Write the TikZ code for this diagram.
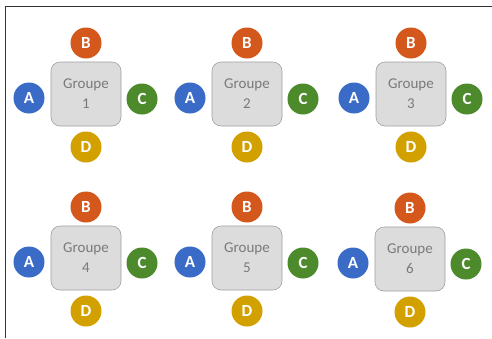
\documentclass[tikz,border=0pt]{standalone}
\usepackage{fontspec}
\setmainfont{Carlito}
\definecolor{cA}{HTML}{3A6BC6}
\definecolor{cB}{HTML}{D4581C}
\definecolor{cC}{HTML}{4C8A2C}
\definecolor{cD}{HTML}{D2A100}
\definecolor{boxfill}{HTML}{DCDCDC}
\definecolor{boxline}{HTML}{A0A0A0}
\definecolor{boxtext}{HTML}{7A7A7A}
\tikzset{
  grp/.style={draw=boxline, fill=boxfill, rounded corners=9pt, minimum width=70pt, minimum height=64pt, inner sep=0pt, align=center, text=boxtext, font=\fontsize{15}{20}\selectfont, line width=0.6pt},
  ball/.style={circle, fill=#1, minimum size=31pt, inner sep=0pt, text=white, font=\bfseries\fontsize{17}{17}\selectfont},
}
\begin{document}
\begin{tikzpicture}[x=1pt,y=-1pt]
\useasboundingbox (0,0) rectangle (492,338);
\fill[white] (0,0) rectangle (492,338);
\coordinate (tl) at (5.5,6.5);
\coordinate (tr) at (492,6.5);
\coordinate (bl) at (5.5,338);
\draw[line width=1.3pt, black!80] (tr) -- (tl) -- (bl);
\foreach \n/\x/\y in {1/86/94, 2/247/94, 3/411/94, 4/86/258, 5/247/258, 6/410/259} {
  \node[grp] (g\n) at (\x,\y) {Groupe\\\n};
  \node[ball=cB] (b\n) at (\x+0,\y-51) {B};
  \node[ball=cA] (a\n) at (\x-57,\y+4) {A};
  \node[ball=cC] (c\n) at (\x+56,\y+5) {C};
  \node[ball=cD] (d\n) at (\x+0,\y+53) {D};
}
\end{tikzpicture}
\end{document}
